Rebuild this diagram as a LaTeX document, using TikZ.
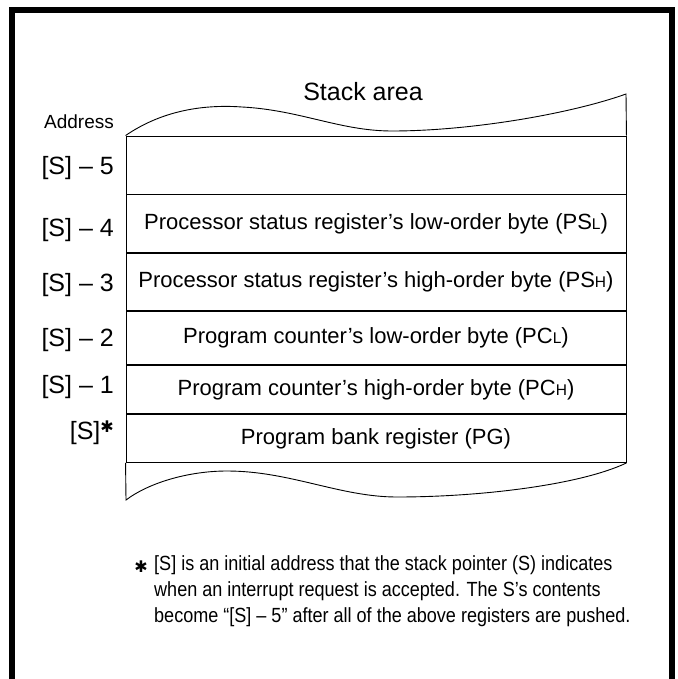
\documentclass[tikz,border=0pt]{standalone}
\usepackage{fontspec}
\setmainfont{Liberation Sans}
\newfontfamily\symfont{DejaVu Sans}
\newfontfamily\notefont[FakeStretch=0.88]{Liberation Sans}
\usetikzlibrary{positioning}
\newcommand{\lowpart}[1]{{\fontsize{15.5}{15.5}\selectfont #1}}

\begin{document}
\begin{tikzpicture}[x=1pt,y=-1pt,line join=miter,cell/.style={draw,line width=.9pt,minimum width=500pt,minimum height=#1,inner sep=0pt,font=\fontsize{22}{24}\selectfont},addr/.style={anchor=east,inner sep=0pt,font=\fontsize{25}{28}\selectfont},edge/.style={line width=.9pt}]
\useasboundingbox (0,0) rectangle (677,679);
\draw[line width=6pt] (12,679) -- (12,10) -- (671.5,10) -- (671.5,679);
\node[font=\fontsize{25}{28}\selectfont] (title) at (363,92) {Stack area};
\node[font=\fontsize{19}{20}\selectfont] (addrhead) at (79,122) {Address};
% stack cells, top to bottom
\node[cell=58pt] (s5) at (376,165) {};
\node[cell=58pt,below=0pt of s5] (s4) {Processor status register’s low-order byte (PS\lowpart{L})};
\node[cell=57pt,below=0pt of s4] (s3) {Processor status register’s high-order byte (PS\lowpart{H})};
\node[cell=53pt,below=0pt of s3] (s2) {Program counter’s low-order byte (PC\lowpart{L})};
\node[cell=48pt,below=0pt of s2] (s1) {Program counter’s high-order byte (PC\lowpart{H})};
\node[cell=48pt,below=0pt of s1] (s0) {Program bank register (PG)};
\coordinate (topend) at (626,94);
\coordinate (botend) at (126,500);
\draw[edge] (s5.north west) .. controls (160,112) and (200,104) .. (242,107) .. controls (300,110) and (340,131) .. (392,131) .. controls (470,131) and (570,114) .. (topend) -- (s5.north east);
\draw[edge] (s0.south west) -- (botend) .. controls (150,482) and (190,471) .. (227,471) .. controls (290,471) and (340,497) .. (397,497) .. controls (480,497) and (580,485) .. (s0.south east);
% addresses
\node[addr] (a5) at (114,168) {[S] – 5};
\node[addr] (a4) at (114,230) {[S] – 4};
\node[addr] (a3) at (114,285) {[S] – 3};
\node[addr] (a2) at (114,340) {[S] – 2};
\node[addr] (a1) at (114,387) {[S] – 1};
\node[addr] (a0) at (114,433) {[S]\raisebox{.3em}{\symfont\fontsize{16}{16}\selectfont ✱}};
% note
\node[font=\symfont\fontsize{16}{16}\selectfont] (notestar) at (141,567) {✱};
\node[anchor=north west,inner sep=0pt,align=left,font=\notefont\fontsize{20.5}{26}\selectfont] (note) at (154,555) {[S] is an initial address that the stack pointer (S) indicates\\when an interrupt request is accepted. The S’s contents\\become “[S] – 5” after all of the above registers are pushed.};
\end{tikzpicture}
\end{document}
